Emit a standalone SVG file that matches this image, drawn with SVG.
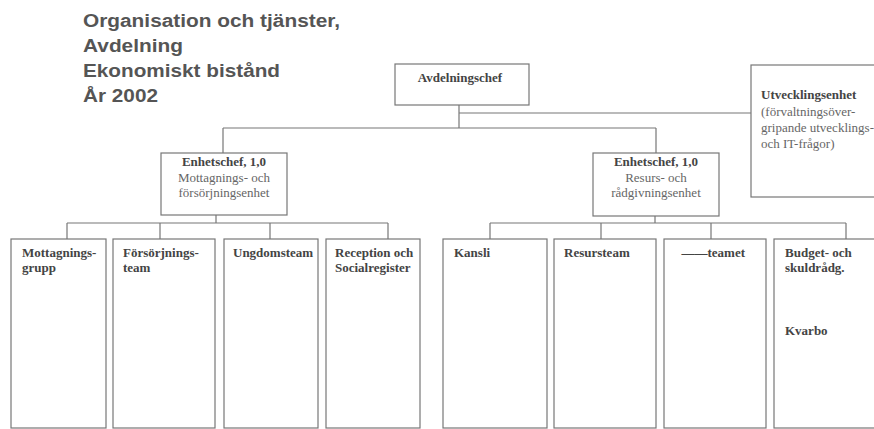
<svg xmlns="http://www.w3.org/2000/svg" width="874" height="429" viewBox="0 0 874 429">
<style>
.title{font-family:"Liberation Sans",Arial,sans-serif;font-weight:bold;font-size:17.5px;fill:#555}
.box{fill:#fff;stroke:#777;stroke-width:1.2}
.b{font-family:"Liberation Serif","Times New Roman",serif;font-weight:bold;font-size:13px;fill:#444}
.r{font-family:"Liberation Serif","Times New Roman",serif;font-size:13px;fill:#666}
.c{text-anchor:middle}
.conn{fill:none;stroke:#777;stroke-width:1.2}
</style>
<rect width="874" height="429" fill="#fff"/>
<g id="title">
<text class="title" x="83" y="27" textLength="257" lengthAdjust="spacingAndGlyphs">Organisation och tjänster,</text>
<text class="title" x="83" y="52" textLength="100" lengthAdjust="spacingAndGlyphs">Avdelning</text>
<text class="title" x="83" y="77" textLength="197" lengthAdjust="spacingAndGlyphs">Ekonomiskt bistånd</text>
<text class="title" x="83" y="102" textLength="75" lengthAdjust="spacingAndGlyphs">År 2002</text>
</g>
<g id="connectors">
<path class="conn" d="M459 105V128M459 113H751M223 128H656M223 128V153M656 128V153"/>
<path class="conn" d="M216 215V223M67 223H388M67 223V239M160 223V239M270 223V239M388 223V239"/>
<path class="conn" d="M655 216V223M490 223H846M490 223V239M601 223V239M711 223V239M846 223V239"/>
</g>
<g id="avdelningschef">
<rect class="box" x="395" y="64" width="134" height="41"/>
<text class="b c" x="460" y="82">Avdelningschef</text>
</g>
<g id="utvecklingsenhet">
<rect class="box" x="751" y="65" width="140" height="132"/>
<text class="b" x="761" y="99">Utvecklingsenhet</text>
<text class="r" x="761" y="115.5">(förvaltningsöver-</text>
<text class="r" x="761" y="132">gripande utvecklings-</text>
<text class="r" x="761" y="148">och IT-frågor)</text>
</g>
<g id="enhet-mottagning">
<rect class="box" x="161" y="153" width="126" height="62"/>
<text class="b c" x="224" y="166">Enhetschef, 1,0</text>
<text class="r c" x="224" y="181.5">Mottagnings- och</text>
<text class="r c" x="224" y="197">försörjningsenhet</text>
</g>
<g id="enhet-resurs">
<rect class="box" x="593" y="153" width="126" height="63"/>
<text class="b c" x="656" y="166">Enhetschef, 1,0</text>
<text class="r c" x="656" y="181.5">Resurs- och</text>
<text class="r c" x="656" y="197">rådgivningsenhet</text>
</g>
<g id="mottagningsgrupp">
<rect class="box" x="11" y="239" width="95" height="189"/>
<text class="b" x="22" y="257">Mottagnings-</text>
<text class="b" x="22" y="272">grupp</text>
</g>
<g id="forsorjningsteam">
<rect class="box" x="113" y="239" width="102" height="189"/>
<text class="b" x="123" y="257">Försörjnings-</text>
<text class="b" x="123" y="272">team</text>
</g>
<g id="ungdomsteam">
<rect class="box" x="224" y="239" width="94" height="189"/>
<text class="b" x="233" y="257">Ungdomsteam</text>
</g>
<g id="reception">
<rect class="box" x="326" y="239" width="94" height="189"/>
<text class="b" x="335" y="257">Reception och</text>
<text class="b" x="335" y="272">Socialregister</text>
</g>
<g id="kansli">
<rect class="box" x="443" y="239" width="104" height="189"/>
<text class="b" x="454" y="257">Kansli</text>
</g>
<g id="resursteam">
<rect class="box" x="554" y="239" width="102" height="189"/>
<text class="b" x="564" y="257">Resursteam</text>
</g>
<g id="teamet">
<rect class="box" x="664" y="239" width="102" height="189"/>
<text class="b" x="745" y="257" text-anchor="end">——teamet</text>
</g>
<g id="budget">
<rect class="box" x="774" y="239" width="110" height="189"/>
<text class="b" x="785" y="257">Budget- och</text>
<text class="b" x="785" y="272">skuldrådg.</text>
<text class="b" x="785" y="335">Kvarbo</text>
</g>
</svg>
